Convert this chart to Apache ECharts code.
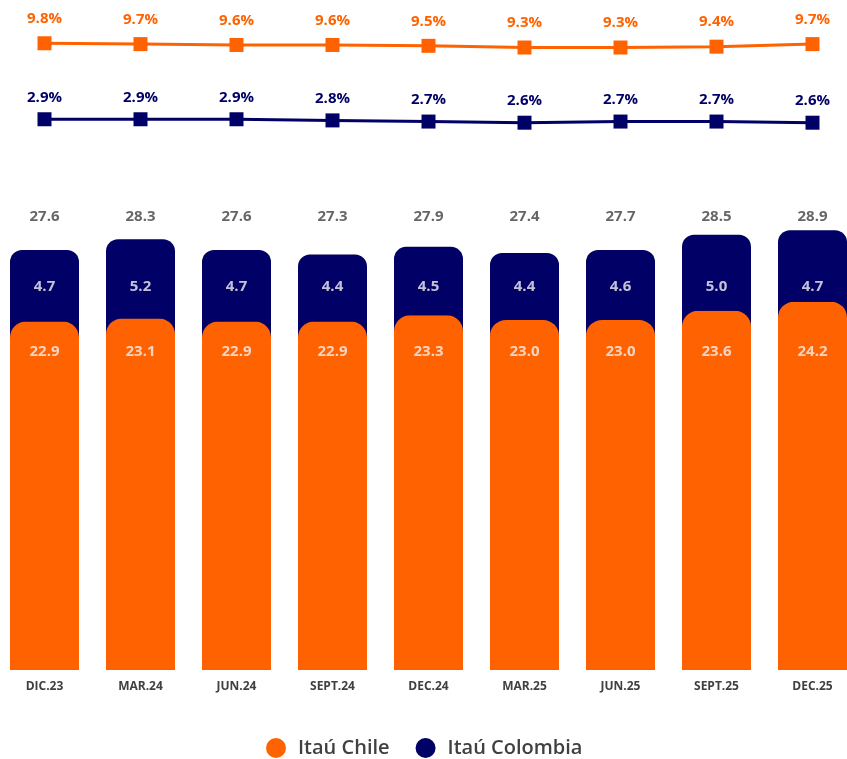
<!DOCTYPE html>
<html>
<head>
<meta charset="utf-8">
<script src="https://cdn.jsdelivr.net/npm/echarts@6/dist/echarts.min.js"></script>
<style>
  html, body { margin: 0; padding: 0; background: #ffffff; }
  #chart { width: 847px; height: 759px; }
</style>
</head>
<body>
<div id="chart"></div>
<script>
// Quarterly figures
const categories = ['DIC.23', 'MAR.24', 'JUN.24', 'SEPT.24', 'DEC.24', 'MAR.25', 'JUN.25', 'SEPT.25', 'DEC.25'];
const chile      = [22.9, 23.1, 22.9, 22.9, 23.3, 23.0, 23.0, 23.6, 24.2];
const colombia   = [4.7, 5.2, 4.7, 4.4, 4.5, 4.4, 4.6, 5.0, 4.7];
const totals     = [27.6, 28.3, 27.6, 27.3, 27.9, 27.4, 27.7, 28.5, 28.9];
const chilePct   = [9.8, 9.7, 9.6, 9.6, 9.5, 9.3, 9.3, 9.4, 9.7];
const colombiaPct= [2.9, 2.9, 2.9, 2.8, 2.7, 2.6, 2.7, 2.7, 2.6];

const ORANGE = '#FF6200';
const NAVY = '#000066';
const GREY = '#404040';
const FONT = '"Open Sans", "Noto Sans", sans-serif';
const BAR_W = 69;

// Fixed label rows on the bar axis (totals, Colombia segment, Chile segment)
const ROW_TOTAL = 29.75;
const ROW_COL = 25.2;
const ROW_CHI = 20.9;

function labelRow(name, level, values, color) {
  return {
    name: name,
    type: 'scatter',
    yAxisIndex: 0,
    symbolSize: 1,
    itemStyle: { color: 'transparent' },
    silent: true,
    z: 10,
    data: categories.map((c, i) => [c, level]),
    label: {
      show: true,
      position: 'inside',
      color: color,
      fontFamily: FONT,
      fontWeight: 'bold',
      fontSize: 15,
      formatter: p => values[p.dataIndex].toFixed(1)
    }
  };
}

const chart = echarts.init(document.getElementById('chart'), null, { renderer: 'canvas' });

chart.setOption({
  animation: false,
  backgroundColor: '#ffffff',
  grid: { left: -3.5, width: 864, top: 0, bottom: 89, containLabel: false, outerBoundsMode: 'none' },
  legend: {
    data: ['Itaú Chile', 'Itaú Colombia'],
    left: 261,
    top: 733,
    icon: 'circle',
    itemWidth: 34,
    itemHeight: 20,
    itemGap: 26,
    textStyle: { color: GREY, fontFamily: FONT, fontSize: 20, fontWeight: 600 }
  },
  xAxis: {
    type: 'category',
    data: categories,
    axisLine: { show: false },
    axisTick: { show: false },
    axisLabel: { color: GREY, fontFamily: FONT, fontWeight: 'bold', fontSize: 12, margin: 11 }
  },
  yAxis: [
    { type: 'value', min: 0, max: 44.02, show: false, splitLine: { show: false } },
    { type: 'value', min: -63.93, max: 14.89, show: false, splitLine: { show: false } },
    { type: 'value', min: -44.99, max: 13.27, show: false, splitLine: { show: false } }
  ],
  series: [
    {
      // navy backing under each Chile bar, visible through its rounded corners
      name: 'base',
      type: 'custom',
      yAxisIndex: 0,
      silent: true,
      data: chile.map((v, i) => [i, v]),
      renderItem: function (params, api) {
        const top = api.coord([api.value(0), api.value(1)]);
        const bottom = api.coord([api.value(0), 0]);
        return {
          type: 'rect',
          shape: { x: top[0] - BAR_W / 2, y: top[1] - 2, width: BAR_W, height: bottom[1] - top[1] + 2 },
          style: { fill: NAVY }
        };
      }
    },
    {
      name: 'Itaú Chile',
      type: 'bar',
      stack: 'total',
      yAxisIndex: 0,
      barWidth: BAR_W,
      itemStyle: { color: ORANGE, borderRadius: [16, 16, 0, 0] },
      data: chile
    },
    {
      name: 'Itaú Colombia',
      type: 'bar',
      stack: 'total',
      yAxisIndex: 0,
      barWidth: BAR_W,
      itemStyle: { color: NAVY, borderRadius: [12, 12, 0, 0] },
      data: colombia
    },
    labelRow('totalLabels', ROW_TOTAL, totals, GREY),
    labelRow('colombiaLabels', ROW_COL, colombia, '#f2f2f2'),
    labelRow('chileLabels', ROW_CHI, chile, '#f2f2f2'),
    {
      name: 'Chile %',
      type: 'line',
      yAxisIndex: 1,
      data: chilePct,
      symbol: 'rect',
      symbolSize: 14,
      lineStyle: { color: ORANGE, width: 3 },
      itemStyle: { color: ORANGE },
      label: {
        show: true,
        position: 'top',
        distance: 10,
        color: ORANGE,
        fontFamily: FONT,
        fontWeight: 'bold',
        fontSize: 15,
        formatter: p => p.value.toFixed(1) + '%'
      }
    },
    {
      name: 'Colombia %',
      type: 'line',
      yAxisIndex: 2,
      data: colombiaPct,
      symbol: 'rect',
      symbolSize: 14,
      lineStyle: { color: NAVY, width: 3 },
      itemStyle: { color: NAVY },
      label: {
        show: true,
        position: 'top',
        distance: 7,
        color: NAVY,
        fontFamily: FONT,
        fontWeight: 'bold',
        fontSize: 15,
        formatter: p => p.value.toFixed(1) + '%'
      }
    }
  ]
});
</script>
</body>
</html>
